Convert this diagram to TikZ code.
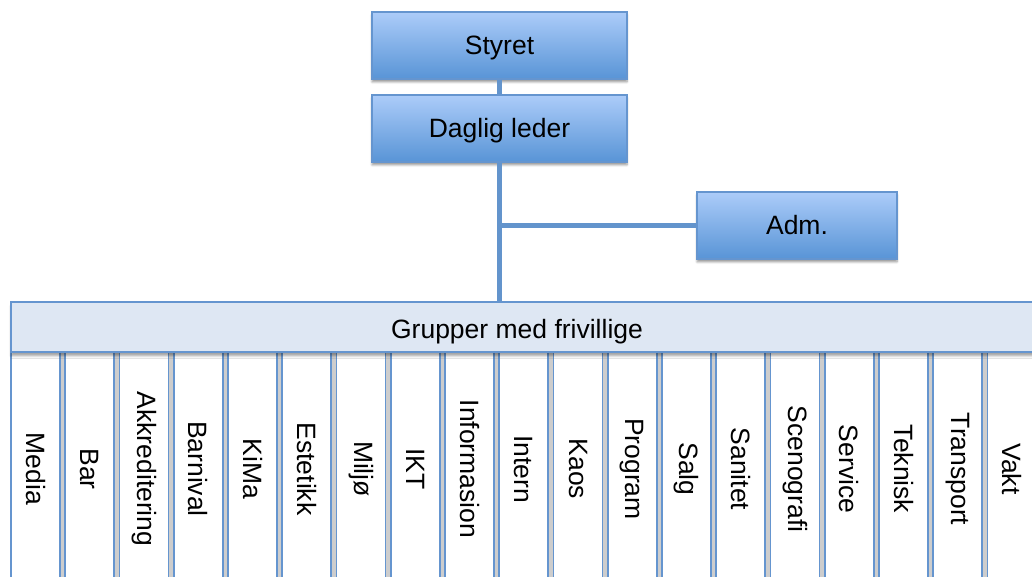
\documentclass[tikz,border=0pt]{standalone}
\usepackage{fontspec}
\setmainfont{Liberation Sans}
\usetikzlibrary{shadows.blur}
\definecolor{boxtop}{RGB}{172,204,249}
\definecolor{boxbot}{RGB}{88,148,214}
\definecolor{boxline}{RGB}{101,149,207}
\definecolor{barfill}{RGB}{222,231,243}
\definecolor{gapgray}{RGB}{205,205,205}
\definecolor{linkblue}{RGB}{99,148,204}

\begin{document}
\begin{tikzpicture}[x=1pt, y=1pt, node distance=54.25pt]
\tikzstyle{unit}=[draw=boxline, line width=1.5pt, top color=boxtop, bottom color=boxbot, minimum height=67pt, text height=19pt, text depth=0pt, font=\fontsize{26.5}{30}\selectfont, blur shadow={shadow xshift=0pt, shadow yshift=-3pt, shadow blur steps=6, shadow opacity=40}]
\tikzstyle{group}=[draw=boxline, fill=white, line width=1.6pt, minimum width=49pt, minimum height=234pt, inner sep=0pt, font=\fontsize{26.5}{30}\selectfont]
\tikzstyle{bar}=[draw=boxline, fill=barfill, line width=1.6pt, minimum width=1034pt, minimum height=50pt, blur shadow={shadow xshift=0pt, shadow yshift=-4pt, shadow blur steps=6, shadow opacity=35}]
\tikzstyle{link}=[draw=linkblue, line width=5.5pt]
\useasboundingbox (0,0) rectangle (1032,576);
\clip (0,0) rectangle (1032,576);
% gaps between the groups
\fill[gapgray] (11,224) rectangle (1040,-10);
% groups
\node[group]    (media) at (35.5,107)       {\rotatebox{-90}{Media}};
\node[group]    (bar)[right of=media]       {\rotatebox{-90}{Bar}};
\node[group]    (akk)[right of=bar]         {\rotatebox{-90}{Akkreditering}};
\node[group]    (barn)[right of=akk]        {\rotatebox{-90}{Barnival}};
\node[group]    (kima)[right of=barn]       {\rotatebox{-90}{KiMa}};
\node[group]    (est)[right of=kima]        {\rotatebox{-90}{Estetikk}};
\node[group]    (milj)[right of=est]        {\rotatebox{-90}{Miljø}};
\node[group]    (ikt)[right of=milj]        {\rotatebox{-90}{IKT}};
\node[group]    (info)[right of=ikt]        {\rotatebox{-90}{Informasion}};
\node[group]    (intern)[right of=info]     {\rotatebox{-90}{Intern}};
\node[group]    (kaos)[right of=intern]     {\rotatebox{-90}{Kaos}};
\node[group]    (prog)[right of=kaos]       {\rotatebox{-90}{Program}};
\node[group]    (salg)[right of=prog]       {\rotatebox{-90}{Salg}};
\node[group]    (san)[right of=salg]        {\rotatebox{-90}{Sanitet}};
\node[group]    (sceno)[right of=san]       {\rotatebox{-90}{Scenografi}};
\node[group]    (serv)[right of=sceno]      {\rotatebox{-90}{Service}};
\node[group]    (tek)[right of=serv]        {\rotatebox{-90}{Teknisk}};
\node[group]    (trans)[right of=tek]       {\rotatebox{-90}{Transport}};
\node[group]    (vakt)[right of=trans]      {\rotatebox{-90}{Vakt}};
% the bar over the groups
\node[bar]      (grp) at (528,249) [label={[xshift=-11pt, text height=23pt, text depth=0pt, font=\fontsize{26.5}{30}\selectfont]center:Grupper med frivillige}] {};
% top of the chart
\node[unit, minimum width=255pt]  (sty) at (499.5,530.5)  {Styret};
\node[unit, minimum width=255pt]  (dag)[below of=sty, node distance=83pt] {Daglig leder};
\node[unit, minimum width=200pt]  (adm) at (797,350.5)    {Adm.};
\coordinate (split) at (dag.south |- adm.west);
\path[link]
(sty.south) -- (dag.north)
(dag.south) -- (dag.south |- grp.north)
(split) -- (adm.west);
\end{tikzpicture}
\end{document}
